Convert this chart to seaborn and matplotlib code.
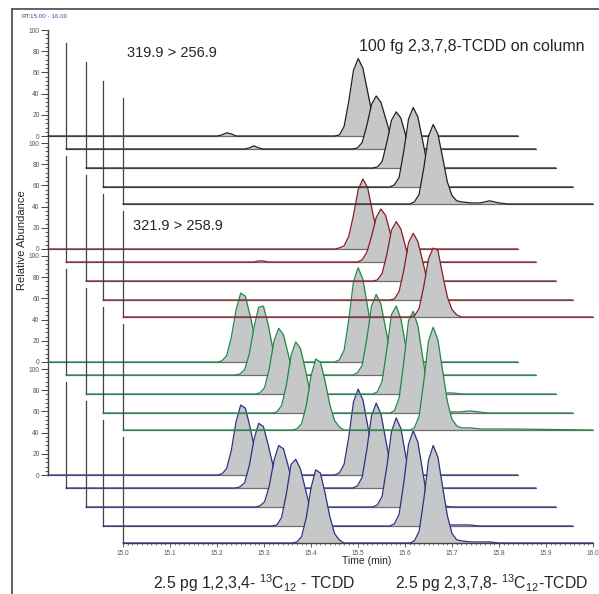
import matplotlib
matplotlib.use("Agg")
import matplotlib.pyplot as plt
from matplotlib.ticker import MultipleLocator, FormatStrFormatter
import seaborn as sns

# scan times (min), shared by all traces
rt = [15.00,
      15.36, 15.37, 15.38, 15.39, 15.40, 15.41, 15.42, 15.43, 15.44, 15.45, 15.46, 15.47,
      15.61, 15.62, 15.63, 15.64, 15.65, 15.66, 15.67, 15.68, 15.69, 15.70, 15.71, 15.72,
      15.74, 15.76, 15.78, 15.80, 15.82, 16.00]

# 319.9 > 256.9, native 2,3,7,8-TCDD, 5 injections
native_quant = [
    [0, 0, 1, 3, 2, 0, 0, 0, 0, 0, 0, 0, 0, 0, 1, 9, 33, 62, 73, 64, 42, 20, 7, 2, 0, 0, 0, 0, 0, 0, 0],
    [0, 0, 0, 0, 1, 3, 1, 0, 0, 0, 0, 0, 0, 0, 1, 6, 22, 42, 50, 44, 29, 14, 5, 2, 0, 0, 0, 0, 0, 0, 0],
    [0, 0, 0, 0, 0, 0, 0, 0, 0, 0, 0, 0, 0, 0, 1, 6, 24, 45, 53, 47, 31, 15, 5, 2, 0, 0, 0, 0, 0, 0, 0],
    [0, 0, 0, 0, 0, 0, 0, 0, 0, 0, 0, 0, 0, 0, 2, 9, 34, 64, 75, 66, 44, 21, 8, 2, 0, 0, 0, 0, 0, 0, 0],
    [0, 0, 0, 0, 0, 0, 0, 0, 0, 0, 0, 0, 0, 0, 2, 9, 34, 64, 75, 66, 44, 21, 8, 3, 2, 1, 1, 3, 1, 0, 0],
]
# 321.9 > 258.9
native_qual = [
    [0, 0, 0, 0, 0, 0, 0, 0, 0, 0, 0, 0, 0, 0, 1, 3, 12, 32, 56, 66, 58, 36, 15, 5, 1, 0, 0, 0, 0, 0, 0],
    [0, 0, 0, 0, 0, 0, 1, 1, 0, 0, 0, 0, 0, 0, 0, 2, 9, 24, 42, 50, 44, 27, 11, 3, 1, 0, 0, 0, 0, 0, 0],
    [0, 0, 0, 0, 0, 0, 0, 0, 0, 0, 0, 0, 0, 0, 1, 7, 25, 48, 56, 49, 32, 16, 6, 2, 0, 0, 0, 0, 0, 0, 0],
    [0, 0, 0, 0, 0, 0, 0, 0, 0, 0, 0, 0, 0, 0, 1, 8, 28, 54, 63, 55, 37, 18, 6, 2, 0, 0, 0, 0, 0, 0, 0],
    [0, 0, 0, 0, 0, 0, 0, 0, 0, 0, 0, 0, 0, 0, 1, 8, 29, 55, 65, 63, 40, 19, 7, 2, 0, 0, 0, 0, 0, 0, 0],
]
# 13C12 labelled 1,2,3,4- and 2,3,7,8-TCDD
label_quant = [
    [0, 0, 1, 6, 23, 49, 65, 62, 44, 23, 8, 3, 0, 0, 2, 11, 40, 76, 89, 78, 52, 25, 9, 3, 0, 0, 0, 0, 0, 0, 0],
    [0, 0, 1, 5, 20, 45, 64, 65, 48, 25, 9, 3, 0, 0, 2, 9, 34, 65, 76, 67, 44, 21, 8, 2, 0, 0, 0, 0, 0, 0, 0],
    [0, 0, 1, 6, 24, 50, 62, 56, 38, 19, 7, 2, 0, 0, 2, 12, 42, 75, 83, 71, 46, 22, 8, 3, 1, 2, 1, 1, 0, 0, 0],
    [0, 0, 1, 7, 26, 54, 67, 61, 42, 21, 8, 2, 0, 0, 2, 14, 48, 87, 96, 82, 53, 25, 9, 3, 1, 1, 1, 2, 1, 0, 0],
    [0, 0, 1, 6, 23, 51, 67, 64, 46, 24, 9, 3, 0, 0, 2, 13, 46, 84, 97, 85, 56, 27, 10, 4, 2, 2, 1, 1, 1, 1, 0],
]
label_qual = [
    [0, 0, 1, 6, 23, 50, 66, 63, 45, 24, 9, 3, 0, 0, 2, 10, 36, 69, 81, 71, 47, 23, 8, 2, 0, 0, 0, 0, 0, 0, 0],
    [0, 0, 1, 5, 21, 46, 61, 58, 41, 22, 8, 2, 0, 0, 2, 10, 36, 68, 80, 70, 46, 22, 8, 3, 1, 1, 0, 0, 0, 0, 0],
    [0, 0, 1, 5, 20, 44, 58, 55, 39, 21, 8, 2, 0, 0, 2, 10, 38, 71, 84, 74, 49, 24, 8, 3, 1, 1, 1, 0, 0, 0, 0],
    [0, 0, 1, 8, 30, 58, 63, 54, 36, 18, 6, 2, 0, 0, 2, 11, 41, 77, 90, 79, 52, 25, 9, 3, 1, 1, 1, 1, 0, 0, 0],
    [0, 0, 1, 6, 24, 52, 69, 66, 47, 25, 9, 3, 0, 0, 2, 11, 41, 78, 92, 81, 53, 26, 9, 3, 2, 1, 1, 1, 0, 0, 0],
]

panels = [(native_quant, "#222222"), (native_qual, "#8a1c24"),
          (label_quant, "#1f8a45"), (label_qual, "#2e3280")]

sns.set_style("white")
plt.rcParams["font.family"] = ["Liberation Sans", "DejaVu Sans"]
plt.rcParams["mathtext.default"] = "regular"

W, H = 599, 594
x_shift = [0, 18, 38, 55, 75]   # px offsets of the stacked view
y_shift = [0, 13, 32, 51, 68]
panel_base = [136, 249, 362, 475]
x0, plot_w, plot_h = 48, 470, 106
fill_col = "#c6c7c9"
axis_col = "#444444"

fig = plt.figure(figsize=(W / 100, H / 100), dpi=100)

frame = fig.add_axes([12 / W, 0, 1 - 12 / W, 1 - 9 / H])
frame.set_xticks([])
frame.set_yticks([])
for s in ["bottom", "right"]:
    frame.spines[s].set_visible(False)
for s in ["left", "top"]:
    frame.spines[s].set_color("#555555")
    frame.spines[s].set_linewidth(1.3)

# main y axis runs through all four panels
spine_ax = fig.add_axes([x0 / W, 1 - panel_base[3] / H, plot_w / W,
                         (panel_base[3] - panel_base[0] + plot_h) / H])
spine_ax.set_facecolor("none")
spine_ax.set_xticks([])
spine_ax.set_yticks([])
for s in ["top", "right", "bottom"]:
    spine_ax.spines[s].set_visible(False)
spine_ax.spines["left"].set_color(axis_col)
spine_ax.spines["left"].set_linewidth(0.9)

# back panels first so upper baselines sit on top of lower peaks
for p in reversed(range(4)):
    traces, col = panels[p]
    for i, y in enumerate(traces):
        left = (x0 + x_shift[i]) / W
        bottom = 1 - (panel_base[p] + y_shift[i]) / H
        ax = fig.add_axes([left, bottom, plot_w / W, plot_h / H])
        ax.set_facecolor("none")
        ax.fill_between(rt, y, 0, color=fill_col, lw=0, zorder=1)
        ax.axhline(0, color="#6f6f6f", lw=0.9, zorder=2, clip_on=False)
        sns.lineplot(x=rt, y=y, ax=ax, color=col, lw=0.9, zorder=3)
        for ln in ax.lines:
            ln.set_clip_on(False)
        ax.set_xlim(15, 16)
        ax.set_ylim(0, 100)
        ax.set_xlabel("")
        ax.set_ylabel("")
        for s in ["top", "right", "bottom"]:
            ax.spines[s].set_visible(False)
        ax.spines["left"].set_color(axis_col)
        ax.spines["left"].set_linewidth(0.9)

        if i == 0:
            ax.yaxis.set_major_locator(MultipleLocator(20))
            ax.yaxis.set_minor_locator(MultipleLocator(4))
            ax.tick_params(axis="y", which="major", left=True, length=5, width=0.7,
                           color=axis_col, labelsize=4.8, labelcolor="#555555", pad=1)
            ax.tick_params(axis="y", which="minor", left=True, length=2.5, width=0.6,
                           color=axis_col)
        else:
            ax.set_yticks([])

        if p == 3 and i == 4:
            ax.spines["bottom"].set_visible(True)
            ax.spines["bottom"].set_color(axis_col)
            ax.spines["bottom"].set_linewidth(0.9)
            ax.xaxis.set_major_locator(MultipleLocator(0.1))
            ax.xaxis.set_minor_locator(MultipleLocator(0.01))
            ax.xaxis.set_major_formatter(FormatStrFormatter("%.1f"))
            ax.tick_params(axis="x", which="major", bottom=True, length=3, width=0.6,
                           color=axis_col, labelsize=4.7, labelcolor="#555555", pad=2)
            ax.tick_params(axis="x", which="minor", bottom=True, length=1.6, width=0.5,
                           color=axis_col)
            ax.set_xlabel("Time (min)", fontsize=7.5)
            ax.xaxis.set_label_coords(0.519, -0.125)
        else:
            ax.set_xticks([])

fig.text(21 / W, 1 - 17 / H, "RT:", fontsize=4.5, color="#444444", va="center")
fig.text(30 / W, 1 - 17 / H, "15.00 - 16.00", fontsize=4.5, color="#3b4aa0", va="center")
fig.text(22 / W, 1 - 240 / H, "Relative Abundance", fontsize=8, rotation=90,
         ha="center", va="center")
fig.text(127 / W, 1 - 53 / H, "319.9 > 256.9", fontsize=10.5, va="center")
fig.text(359 / W, 1 - 47 / H, "100 fg 2,3,7,8-TCDD on column", fontsize=11.5, va="center")
fig.text(133 / W, 1 - 226 / H, "321.9 > 258.9", fontsize=10.5, va="center")
fig.text(153 / W, 1 - 583 / H, r"2.5 pg 1,2,3,4- $^{13}$C$_{12}$ - TCDD", fontsize=11.3,
         va="center")
fig.text(395 / W, 1 - 583 / H, r"2.5 pg 2,3,7,8- $^{13}$C$_{12}$-TCDD", fontsize=11.3,
         va="center")

fig.savefig("out.png", dpi=100)
